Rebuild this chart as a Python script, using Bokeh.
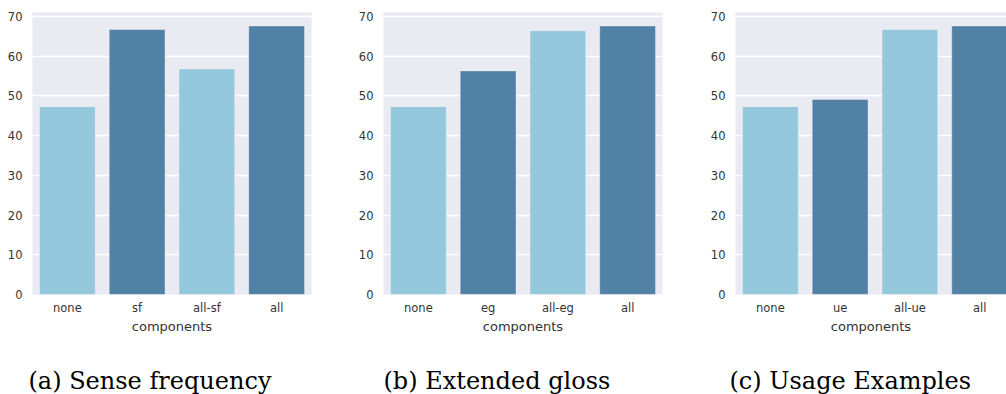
from bokeh.plotting import figure
from bokeh.layouts import row, column
from bokeh.models import Range1d, FixedTicker, Label, ColumnDataSource
from bokeh.embed import file_html
from bokeh.resources import INLINE

# ---- data ----
cats_a = ["none", "sf", "all-sf", "all"]
vals_a = [47.3, 66.7, 56.8, 67.6]
cats_b = ["none", "eg", "all-eg", "all"]
vals_b = [47.3, 56.3, 66.4, 67.6]
cats_c = ["none", "ue", "all-ue", "all"]
vals_c = [47.3, 49.1, 66.7, 67.6]
captions = ["(a) Sense frequency", "(b) Extended gloss", "(c) Usage Examples"]
y_ticks = [0, 10, 20, 30, 40, 50, 60, 70]
x_label = "components"

LIGHT = "#96c8dd"
DARK = "#5281a6"
TXT = "#333333"


def panel(cats, vals, width, border_left, border_right, x_end):
    p = figure(width=width, height=340, output_backend="svg", toolbar_location=None,
               x_range=Range1d(-0.5, x_end), y_range=Range1d(0, 71.0),
               min_border_left=border_left, min_border_right=border_right,
               min_border_top=12, min_border_bottom=46)
    xs = list(range(len(cats)))
    colors = [LIGHT if i % 2 == 0 else DARK for i in xs]
    src = ColumnDataSource(dict(x=xs, top=vals, color=colors))
    p.vbar(x="x", top="top", bottom=0, width=0.8, fill_color="color",
           line_color="white", line_alpha=0.35, line_width=1, source=src)
    p.background_fill_color = "#eaeaf2"
    p.border_fill_color = "white"
    p.outline_line_color = None
    p.xgrid.grid_line_color = None
    p.ygrid.grid_line_color = "white"
    p.ygrid.grid_line_width = 1.3
    p.ygrid.ticker = FixedTicker(ticks=y_ticks)

    p.yaxis.ticker = FixedTicker(ticks=y_ticks)
    p.yaxis.axis_line_color = None
    p.yaxis.major_tick_line_color = None
    p.yaxis.minor_tick_line_color = None
    p.yaxis.major_tick_out = 0
    p.yaxis.major_tick_in = 0
    p.yaxis.major_label_standoff = 10
    p.yaxis.major_label_text_font = "DejaVu Sans"
    p.yaxis.major_label_text_font_size = "11.5px"
    p.yaxis.major_label_text_color = TXT

    p.xaxis.ticker = FixedTicker(ticks=xs)
    p.xaxis.major_label_overrides = {i: c for i, c in enumerate(cats)}
    p.xaxis.axis_line_color = None
    p.xaxis.major_tick_line_color = None
    p.xaxis.minor_tick_line_color = None
    p.xaxis.major_tick_out = 0
    p.xaxis.major_tick_in = 0
    p.xaxis.major_label_standoff = 6
    p.xaxis.major_label_text_font = "DejaVu Sans"
    p.xaxis.major_label_text_font_size = "11.5px"
    p.xaxis.major_label_text_color = TXT
    p.xaxis.axis_label = x_label
    p.xaxis.axis_label_text_font = "DejaVu Sans"
    p.xaxis.axis_label_text_font_size = "13px"
    p.xaxis.axis_label_text_font_style = "normal"
    p.xaxis.axis_label_text_color = TXT
    p.xaxis.axis_label_standoff = 1
    return p


pa = panel(cats_a, vals_a, 340, 32, 29, 3.5)
pb = panel(cats_b, vals_b, 340, 43, 18, 3.5)
pc = panel(cats_c, vals_c, 326, 55, 0, 3.385)

# caption strip below the three panels
cap = figure(width=1006, height=54, output_backend="svg", toolbar_location=None,
             x_axis_type=None, y_axis_type=None,
             x_range=Range1d(0, 1006), y_range=Range1d(0, 54),
             min_border_left=0, min_border_right=0, min_border_top=0, min_border_bottom=0)
cap.outline_line_color = None
cap.background_fill_color = "white"
cap.border_fill_color = "white"
cap.xgrid.visible = False
cap.ygrid.visible = False
for cx, txt in zip([28, 383, 729], captions):
    cap.add_layout(Label(x=cx, y=14, x_units="screen", y_units="screen", text=txt,
                         text_font="DejaVu Serif", text_font_size="24px",
                         text_color="black", text_align="left", text_baseline="alphabetic"))

layout = column(row(pa, pb, pc, spacing=0), cap, spacing=0)
open("out.html", "w").write(file_html(layout, INLINE))
